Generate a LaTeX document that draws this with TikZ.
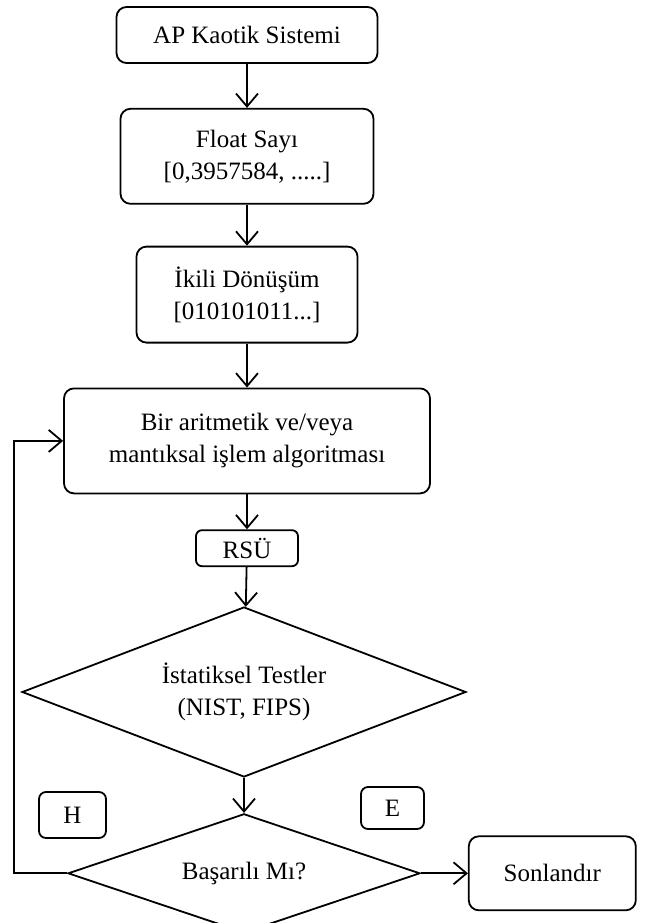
\documentclass[tikz,border=0pt]{standalone}
\usepackage{fontspec}
\setmainfont{Liberation Serif}
\usetikzlibrary{arrows.meta,positioning,shapes.geometric}
\tikzset{kutu/.style={draw,rounded corners=10pt,line width=1.8pt,align=center,inner sep=0pt}}
\tikzset{karar/.style={draw,diamond,line width=1.8pt,align=center,inner sep=0pt}}
\tikzset{ok/.style={-{Straight Barb[length=13pt,width=22pt]},line width=1.8pt}}

\begin{document}
\begin{tikzpicture}[x=1pt,y=-1pt,font=\fontsize{25}{32}\selectfont]
  \useasboundingbox (0,0) rectangle (649,923);
  \node[kutu,minimum width=261pt,minimum height=56pt]  (ap) at (247,35) {AP Kaotik Sistemi};
  \node[kutu,minimum width=253pt,minimum height=95pt]  (float) [below=44pt of ap] {Float Sayı\\{[0,3957584, .....]}};
  \node[kutu,minimum width=221pt,minimum height=96pt]  (ikili) [below=41pt of float] {İkili Dönüşüm\\{[010101011...]}};
  \node[kutu,minimum width=366pt,minimum height=105pt] (islem) [below=44pt of ikili] {Bir aritmetik ve/veya\\mantıksal işlem algoritması};
  \node[kutu,minimum width=102pt,minimum height=36pt,rounded corners=6pt] (rsu) [below=35pt of islem] {RSÜ};
  \node[karar,minimum width=444pt,minimum height=170pt,shape aspect=2.6] (test) [below=39pt of rsu,xshift=-3pt] {İstatiksel Testler\\(NIST, FIPS)};
  \node[karar,minimum width=352pt,minimum height=119pt,shape aspect=3]   (basari) [below=35pt of test] {Başarılı Mı?};
  \node[kutu,minimum width=167pt,minimum height=74pt]  (son) [right=47pt of basari] {Sonlandır};
  \node[kutu,minimum width=67pt,minimum height=46pt,rounded corners=7pt] (h) at (72.5,815) {H};
  \node[kutu,minimum width=63pt,minimum height=42pt,rounded corners=7pt] (e) at (392.5,808) {E};
  \coordinate (geri) at ([xshift=-53pt]basari.west);

  \draw[ok] (ap) -- (float);
  \draw[ok] (float) -- (ikili);
  \draw[ok] (ikili) -- (islem);
  \draw[ok] (islem) -- (rsu);
  \draw[ok] (rsu) -- (test);
  \draw[ok] (test) -- (basari);
  \draw[ok] (basari) -- (son);
  \draw[ok] (basari.west) -- (geri) |- (islem.west);
\end{tikzpicture}
\end{document}
